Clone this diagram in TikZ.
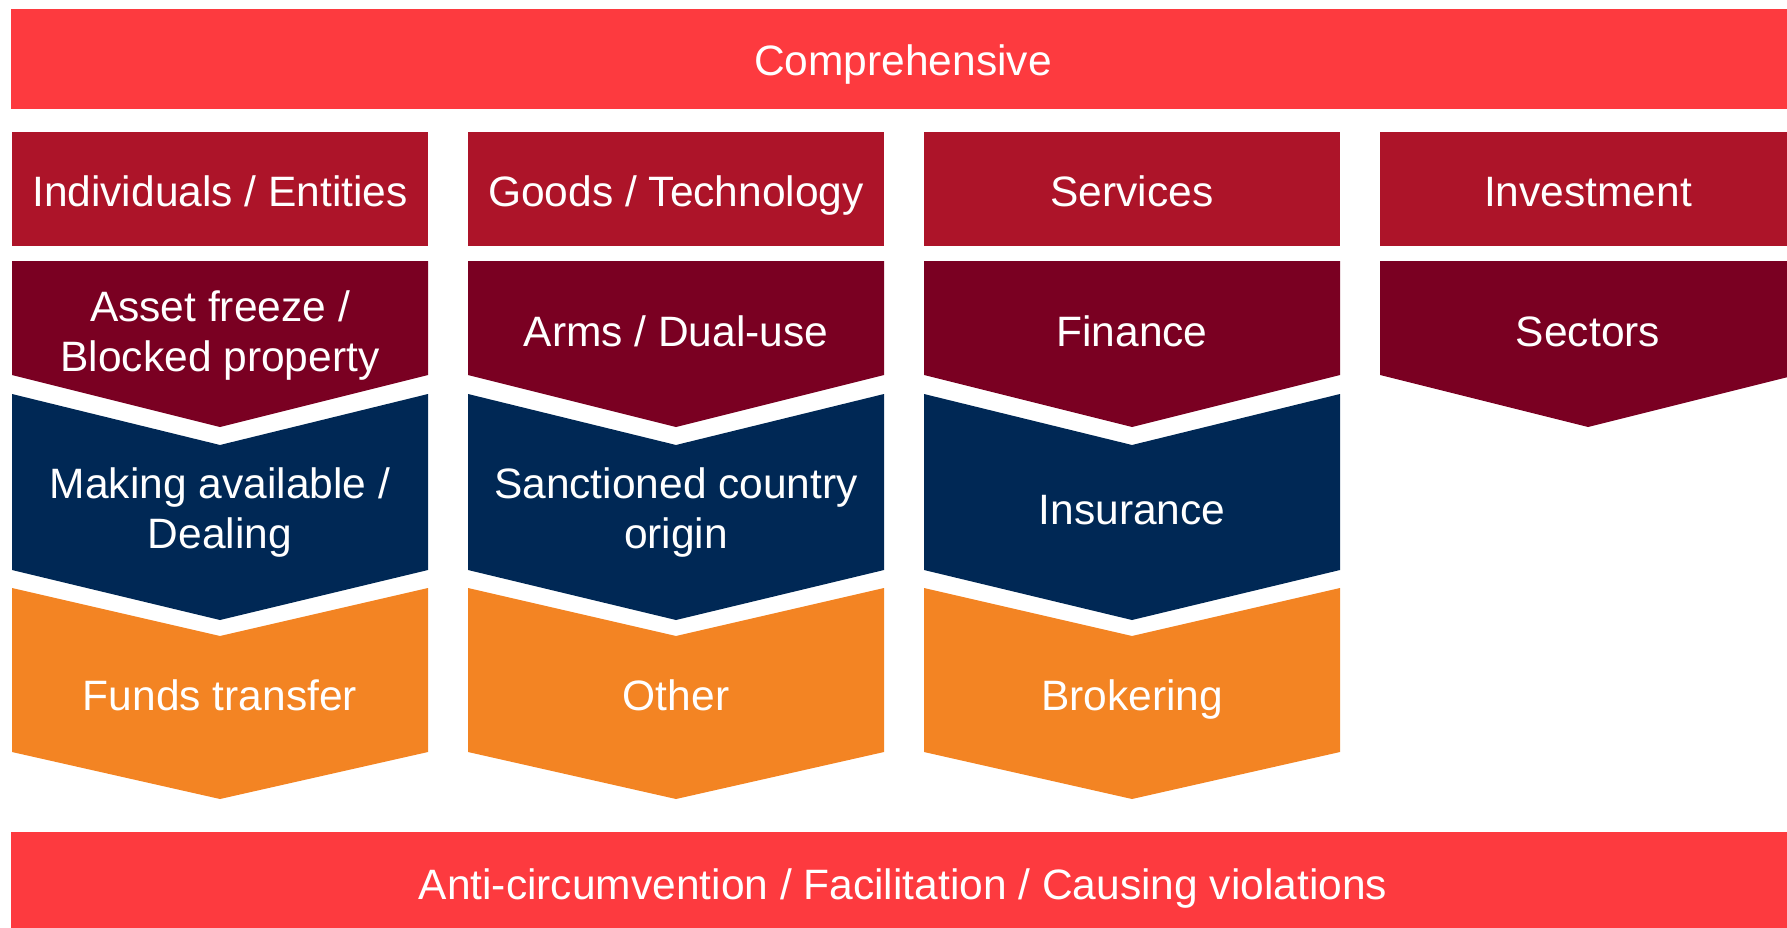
\documentclass[tikz,border=0pt]{standalone}
\usepackage{fontspec}
\setmainfont{Liberation Sans}
\definecolor{barred}{HTML}{FD3A3F}
\definecolor{headred}{HTML}{AD1429}
\definecolor{darkred}{HTML}{7A0022}
\definecolor{navyblue}{HTML}{002855}
\definecolor{orangec}{HTML}{F38423}
\tikzset{
  lbl/.style={text=white, font=\fontsize{42.5}{50}\selectfont, align=center, inner sep=0pt, anchor=base},
}
\begin{document}
\begin{tikzpicture}[x=1pt,y=-1pt]
\useasboundingbox (0,0) rectangle (1787,928);
% top and bottom bars
\fill[barred] (11,9) rectangle (1800,109);
\node[lbl] (comp) at (903,76) {Comprehensive};
\fill[barred] (11,832) rectangle (1800,940);
\node[lbl] (anti) at (903,899) {Anti-circumvention / Facilitation / Causing violations};
% columns
\foreach \x/\name/\head in {12/c1/{Individuals / Entities},468/c2/{Goods / Technology},924/c3/{Services},1380/c4/{Investment}}{
  \pgfmathsetmacro{\xr}{\x+416}
  \pgfmathsetmacro{\xm}{\x+208}
  \fill[headred] (\x,132) rectangle (\xr,246);
  \node[lbl] (h\name) at (\xm,207) {\head};
  \fill[darkred] (\x,261) -- (\xr,261) -- (\xr,375) -- (\xm,427) -- (\x,375) -- cycle;
}
\node[lbl] (r1) at (220,371) {Asset freeze /\\Blocked property};
\node[lbl] (r2) at (676,346) {Arms / Dual-use};
\node[lbl] (r3) at (1132,346) {Finance};
\node[lbl] (r4) at (1588,346) {Sectors};
\foreach \x/\name/\txt/\by in {12/c1/{Making available /\\Dealing}/548,468/c2/{Sanctioned country\\origin}/548,924/c3/{Insurance}/524}{
  \pgfmathsetmacro{\xr}{\x+416}
  \pgfmathsetmacro{\xm}{\x+208}
  \fill[navyblue] (\x,394) -- (\xm,445) -- (\xr,394) -- (\xr,570) -- (\xm,620) -- (\x,570) -- cycle;
  \node[lbl] (n\name) at (\xm,\by) {\txt};
}
\foreach \x/\name/\txt in {12/c1/{Funds transfer},468/c2/{Other},924/c3/{Brokering}}{
  \pgfmathsetmacro{\xr}{\x+416}
  \pgfmathsetmacro{\xm}{\x+208}
  \fill[orangec] (\x,588) -- (\xm,636) -- (\xr,588) -- (\xr,752) -- (\xm,799) -- (\x,752) -- cycle;
  \node[lbl] (o\name) at (\xm,710) {\txt};
}
\end{tikzpicture}
\end{document}
